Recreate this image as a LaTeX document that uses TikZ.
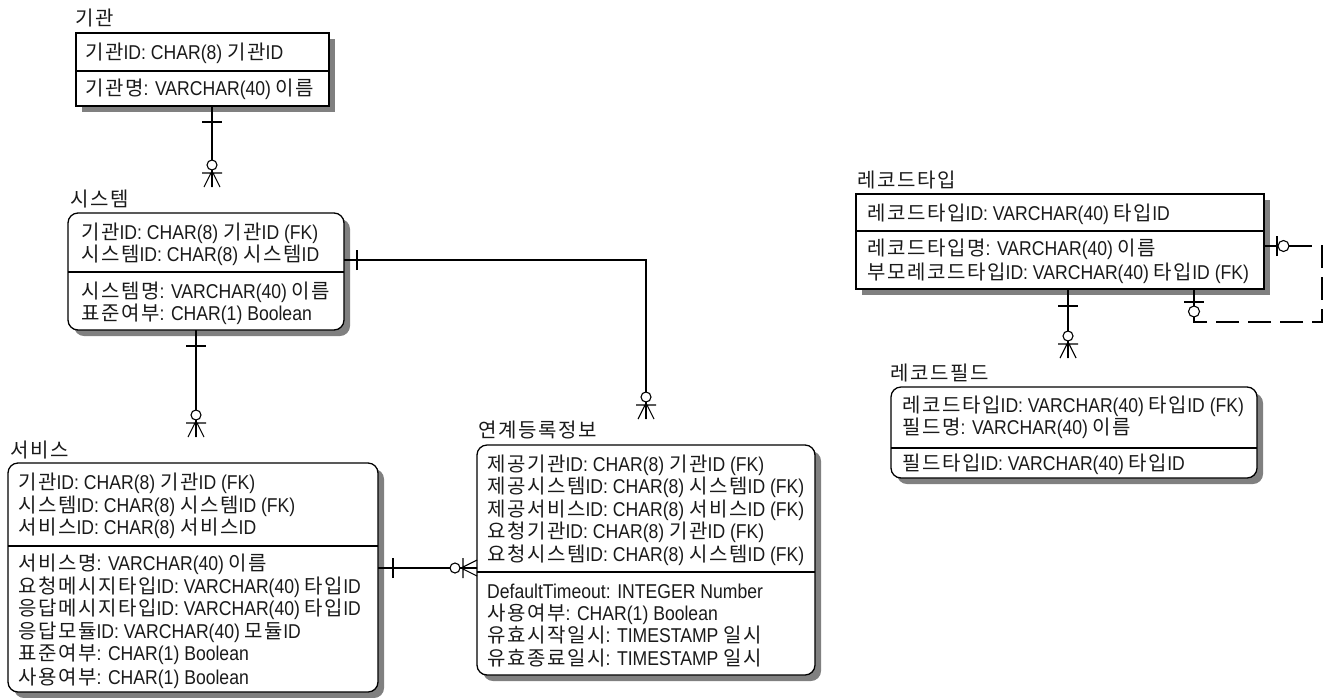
\documentclass[tikz,border=0pt]{standalone}
\usepackage{fontspec}
\setmainfont{Liberation Sans}[FakeStretch=0.88]
\newfontfamily\kr{Noto Sans CJK KR}[LetterSpace=8]
\usetikzlibrary{calc,shadows}
\newcommand\K[1]{{\kr #1}}
\definecolor{ink}{HTML}{1A1A1A}
\begin{document}
\begin{tikzpicture}[x=1pt,y=-1pt,
  ent/.style={draw=black, line width=1.3pt, fill=white, anchor=north west, inner sep=0pt, outer sep=0pt,
    drop shadow={shadow xshift=6pt, shadow yshift=-6pt, fill=black!50, opacity=1}},
  rent/.style={ent, rounded corners=10pt},
  row/.style={anchor=base west, inner sep=0pt, text=ink, font=\fontsize{20pt}{22pt}\selectfont},
  divl/.style={line width=1.2pt},
  conn/.style={line width=1.1pt},
  zmany/.pic={\draw[conn] (0,-16)--(0,0) (0,-16)--(-8,0) (0,-16)--(8,0) (-10,-14)--(10,-14);
              \draw[conn, fill=white] (0,-22) circle[radius=5pt];},
  onebar/.pic={\draw[conn] (-10,0)--(10,0);}
]
\useasboundingbox (0,0) rectangle (1327,697);
\fill[white] (0,0) rectangle (1327,697);

% ---------- 기관 ----------
\node[ent, minimum width=253pt, minimum height=73pt] (gw) at (76,33) {};
\draw[divl] ($(gw.north west)+(0,38)$) -- ($(gw.north east)+(0,38)$);
\node[row] (gw-t) at (75,25) {\K{기관}};
\node[row] (gw-1) at (85,59.5) {\K{기관}ID: CHAR(8) \K{기관}ID};
\node[row] (gw-2) at (85,95.5) {\K{기관명}: VARCHAR(40) \K{이름}};

% ---------- 시스템 ----------
\node[rent, minimum width=276pt, minimum height=117pt] (sys) at (68,213) {};
\draw[divl] ($(sys.north west)+(0,59)$) -- ($(sys.north east)+(0,59)$);
\node[row] (sys-t) at (70,206) {\K{시스템}};
\node[row] (sys-1) at (81,239) {\K{기관}ID: CHAR(8) \K{기관}ID (FK)};
\node[row] (sys-2) at (81,261) {\K{시스템}ID: CHAR(8) \K{시스템}ID};
\node[row] (sys-3) at (81,298.5) {\K{시스템명}: VARCHAR(40) \K{이름}};
\node[row] (sys-4) at (81,320.5) {\K{표준여부}: CHAR(1) Boolean};

% ---------- 서비스 ----------
\node[rent, minimum width=370pt, minimum height=229pt] (svc) at (8,463) {};
\draw[divl] ($(svc.north west)+(0,83)$) -- ($(svc.north east)+(0,83)$);
\node[row] (svc-t) at (10,457) {\K{서비스}};
\node[row] (svc-1) at (18,489.5) {\K{기관}ID: CHAR(8) \K{기관}ID (FK)};
\node[row] (svc-2) at (18,512) {\K{시스템}ID: CHAR(8) \K{시스템}ID (FK)};
\node[row] (svc-3) at (18,534.5) {\K{서비스}ID: CHAR(8) \K{서비스}ID};
\node[row] (svc-4) at (18,570.5) {\K{서비스명}: VARCHAR(40) \K{이름}};
\node[row] (svc-5) at (18,593) {\K{요청메시지타입}ID: VARCHAR(40) \K{타입}ID};
\node[row] (svc-6) at (18,615.5) {\K{응답메시지타입}ID: VARCHAR(40) \K{타입}ID};
\node[row] (svc-7) at (18,638) {\K{응답모듈}ID: VARCHAR(40) \K{모듈}ID};
\node[row] (svc-8) at (18,660.5) {\K{표준여부}: CHAR(1) Boolean};
\node[row] (svc-9) at (18,684) {\K{사용여부}: CHAR(1) Boolean};

% ---------- 연계등록정보 ----------
\node[rent, minimum width=338pt, minimum height=230pt] (lnk) at (477,445) {};
\draw[divl] ($(lnk.north west)+(0,127)$) -- ($(lnk.north east)+(0,127)$);
\node[row] (lnk-t) at (478,437) {\K{연계등록정보}};
\node[row] (lnk-1) at (487,471) {\K{제공기관}ID: CHAR(8) \K{기관}ID (FK)};
\node[row] (lnk-2) at (487,493.5) {\K{제공시스템}ID: CHAR(8) \K{시스템}ID (FK)};
\node[row] (lnk-3) at (487,516) {\K{제공서비스}ID: CHAR(8) \K{서비스}ID (FK)};
\node[row] (lnk-4) at (487,538.5) {\K{요청기관}ID: CHAR(8) \K{기관}ID (FK)};
\node[row] (lnk-5) at (487,561) {\K{요청시스템}ID: CHAR(8) \K{시스템}ID (FK)};
\node[row] (lnk-6) at (487,598) {DefaultTimeout: INTEGER Number};
\node[row] (lnk-7) at (487,620.5) {\K{사용여부}: CHAR(1) Boolean};
\node[row] (lnk-8) at (487,642.5) {\K{유효시작일시}: TIMESTAMP \K{일시}};
\node[row] (lnk-9) at (487,665) {\K{유효종료일시}: TIMESTAMP \K{일시}};

% ---------- 레코드타입 ----------
\node[ent, minimum width=408pt, minimum height=95pt] (rt) at (856,194) {};
\draw[divl] ($(rt.north west)+(0,37)$) -- ($(rt.north east)+(0,37)$);
\node[row] (rt-t) at (857,187.5) {\K{레코드타입}};
\node[row] (rt-1) at (867,220.5) {\K{레코드타입}ID: VARCHAR(40) \K{타입}ID};
\node[row] (rt-2) at (867,255.5) {\K{레코드타입명}: VARCHAR(40) \K{이름}};
\node[row] (rt-3) at (867,279.5) {\K{부모레코드타입}ID: VARCHAR(40) \K{타입}ID (FK)};

% ---------- 레코드필드 ----------
\node[rent, minimum width=366pt, minimum height=91pt] (rf) at (891,387) {};
\draw[divl] ($(rf.north west)+(0,61)$) -- ($(rf.north east)+(0,61)$);
\node[row] (rf-t) at (890,380) {\K{레코드필드}};
\node[row] (rf-1) at (902,412.5) {\K{레코드타입}ID: VARCHAR(40) \K{타입}ID (FK)};
\node[row] (rf-2) at (902,434.5) {\K{필드명}: VARCHAR(40) \K{이름}};
\node[row] (rf-3) at (902,470.5) {\K{필드타입}ID: VARCHAR(40) \K{타입}ID};

% ---------- connectors ----------
% 기관 -> 시스템
\coordinate (c1a) at ($(gw.south west)+(136,0)$);
\coordinate (c1b) at ($(sys.north west)+(144,-26)$);
\draw[conn] (c1a) -- (c1b);
\pic at ($(c1a)+(0,16)$) {onebar};
\pic at (c1b) {zmany};

% 시스템 -> 서비스
\coordinate (c2a) at ($(sys.south west)+(128,0)$);
\coordinate (c2b) at ($(svc.north west)+(188,-26)$);
\draw[conn] (c2a) -- (c2b);
\pic at ($(c2a)+(0,16)$) {onebar};
\pic at (c2b) {zmany};

% 시스템 -> 연계등록정보
\coordinate (c3a) at ($(sys.north east)+(0,47)$);
\coordinate (c3b) at ($(lnk.north west)+(169,-26)$);
\draw[conn] (c3a) -| (c3b);
\pic[rotate=90] at ($(c3a)+(13,0)$) {onebar};
\pic at (c3b) {zmany};

% 서비스 -> 연계등록정보
\coordinate (c4a) at ($(svc.north east)+(0,105)$);
\coordinate (c4b) at ($(lnk.north west)+(0,123)$);
\draw[conn] (c4a) -- (c4b);
\pic[rotate=90] at ($(c4a)+(15,0)$) {onebar};
\pic[rotate=90] at (c4b) {zmany};

% 레코드타입 -> 레코드필드
\coordinate (c5a) at ($(rt.south west)+(212,0)$);
\coordinate (c5b) at ($(rf.north west)+(177,-29)$);
\draw[conn] (c5a) -- (c5b);
\pic at ($(c5a)+(0,17)$) {onebar};
\pic at (c5b) {zmany};

% 레코드타입 self relation
\coordinate (c6a) at ($(rt.north east)+(0,52)$);
\coordinate (c6b) at ($(rt.south east)+(-70,0)$);
\draw[conn] (c6a) -- ++(14,0);
\pic[rotate=90] at ($(c6a)+(13,0)$) {onebar};
\draw[conn] ($(c6a)+(19.5,0)$) circle[radius=5.5pt];
\draw[conn, dash pattern=on 23pt off 9pt] ($(c6a)+(25,0)$) -- ($(c6a)+(58,0)$) -- ($(c6a)+(58,76)$) -- ($(c6b)+(0,33)$) -- ($(c6b)+(0,28)$);
\draw[conn] (c6b) -- ++(0,17);
\pic at ($(c6b)+(0,13)$) {onebar};
\draw[conn] ($(c6b)+(0,22.5)$) circle[radius=5.5pt];
\end{tikzpicture}
\end{document}
